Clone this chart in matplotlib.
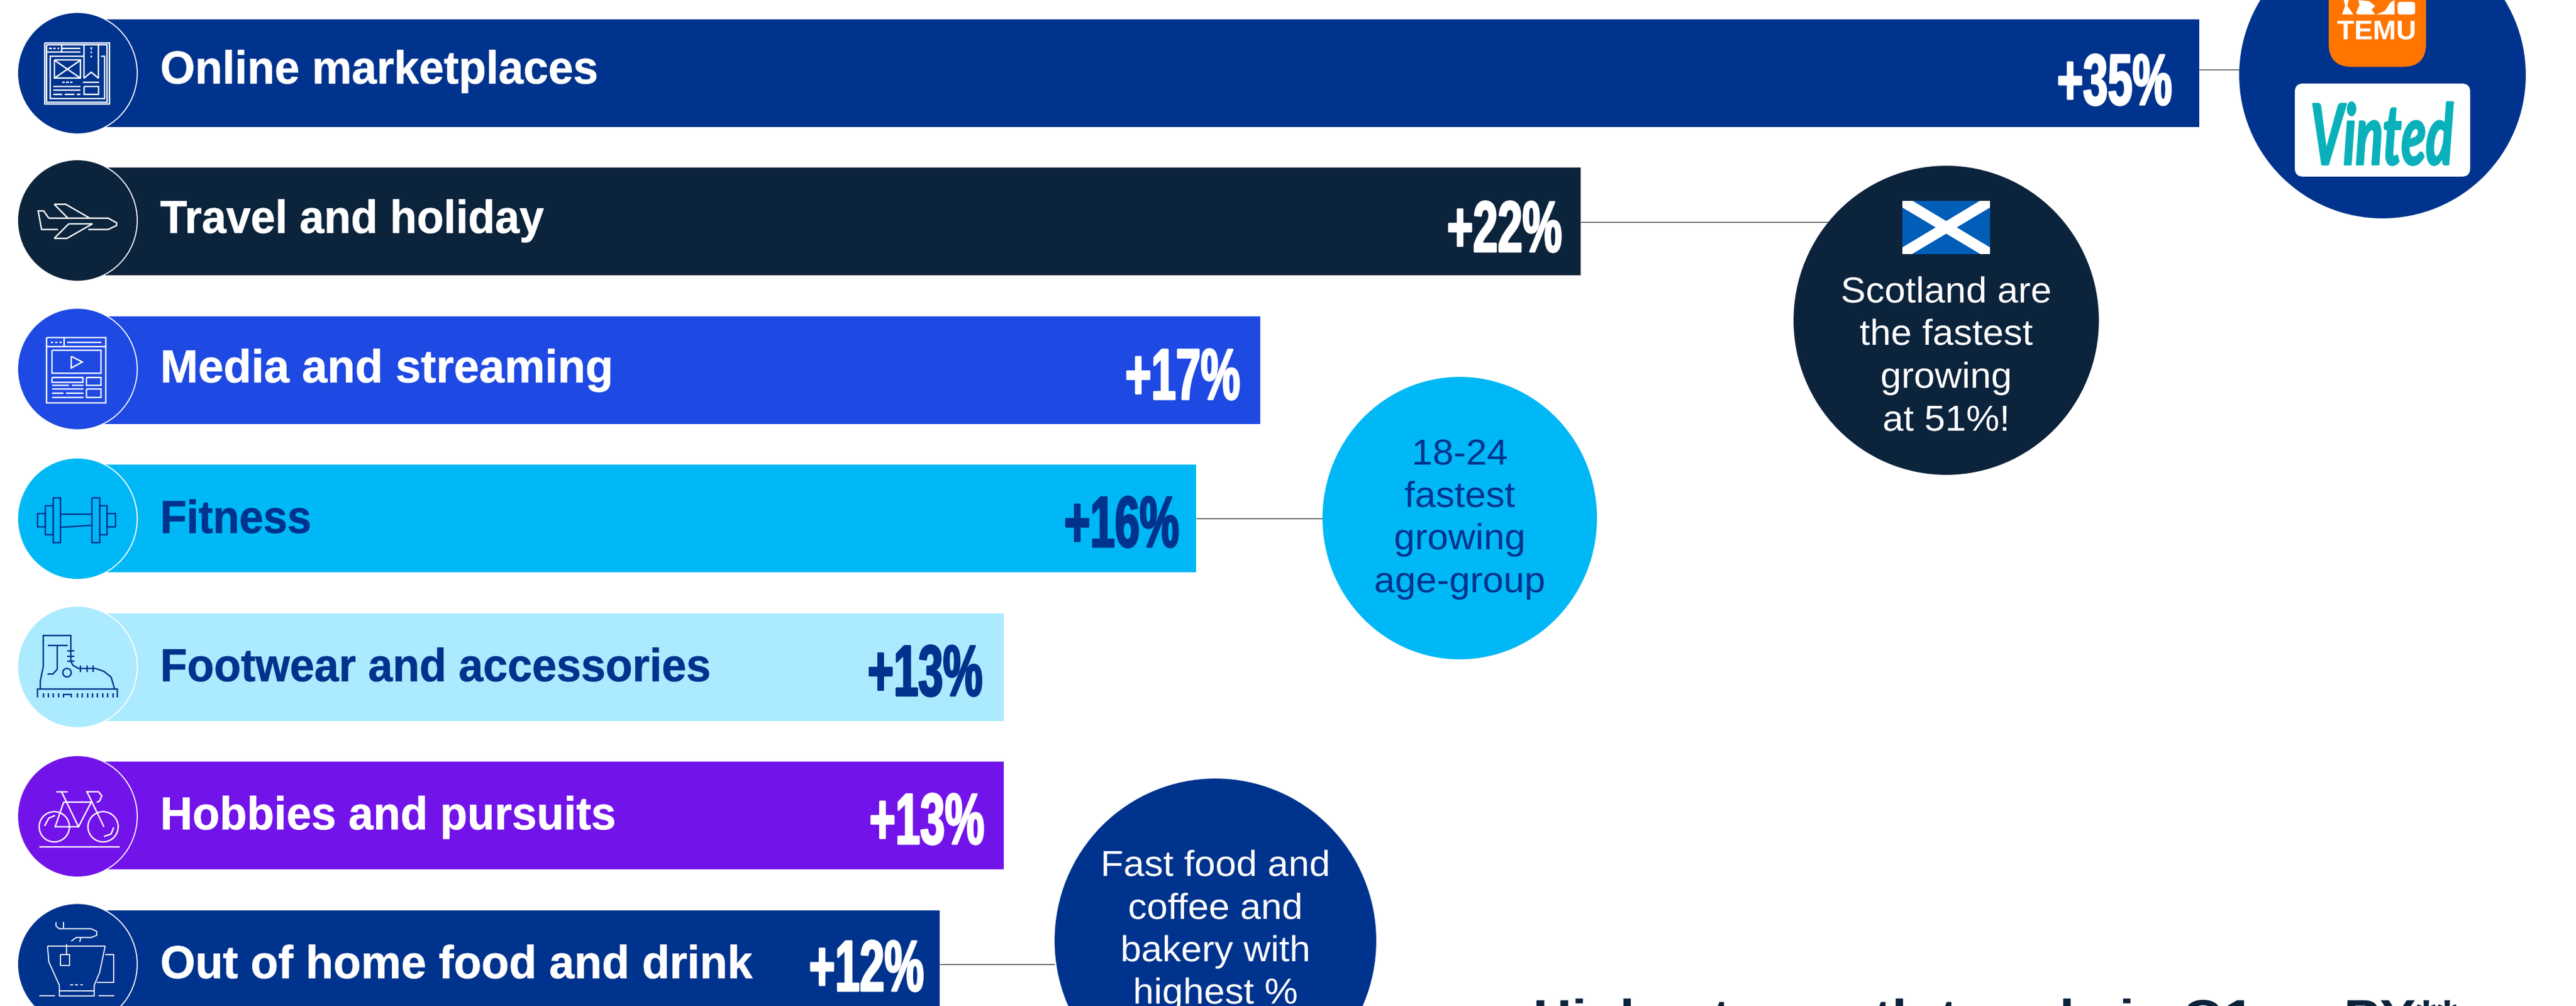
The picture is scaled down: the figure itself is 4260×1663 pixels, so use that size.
import numpy as np
import matplotlib
matplotlib.use("Agg")
import matplotlib.pyplot as plt
from matplotlib.patches import Rectangle, Ellipse, FancyBboxPatch, Polygon
from matplotlib.patheffects import AbstractPathEffect
from matplotlib.transforms import Affine2D

# ---- data -------------------------------------------------------------
categories = ["Online marketplaces", "Travel and holiday", "Media and streaming",
              "Fitness", "Footwear and accessories", "Hobbies and pursuits",
              "Out of home food and drink"]
growth = [35, 22, 17, 16, 13, 13, 12]
bar_colors = ["#00338D", "#0C233C", "#1E49E2", "#00B8F5", "#ACEAFF", "#7213EA", "#00338D"]
text_colors = ["white", "white", "white", "#00338D", "#00338D", "white", "white"]
label_baselines = [138, 385, 632, 881, 1126, 1371, 1617]
label_stretch = [0.969, 0.952, 0.986, 0.934, 0.953, 0.965, 0.978]
value_baselines = [173, 416, 660, 904, 1150, 1395, 1638]
value_margins = [45, 31, 33, 28, 35, 32, 26]
badge_centers = [121, 364.5, 610, 857.5, 1102.5, 1349.5, 1594]

W, H = 4260, 1663
NAVY, INK = "#00338D", "#0C233C"
PX_PER_POINT = 106.0      # horizontal pixels per percentage point
ZERO_PX = 282.0           # pixel column of the zero line
BREAK = 22.0              # the axis is compressed above this value
TOP_PX = 3637.0           # right end of the longest bar
COMPRESS = (TOP_PX - (ZERO_PX + BREAK * PX_PER_POINT)) / ((growth[0] - BREAK) * PX_PER_POINT)
ROW_PX, FIRST_ROW_PX, BAR_PX = 245.5, 121.0, 178.0


def forward(x):
    x = np.asarray(x, dtype=float)
    return np.where(x <= BREAK, x, BREAK + (x - BREAK) * COMPRESS)


def inverse(t):
    t = np.asarray(t, dtype=float)
    return np.where(t <= BREAK, t, BREAK + (t - BREAK) / COMPRESS)


class Squeeze(AbstractPathEffect):
    """Rescale a text horizontally about a pixel column, optionally thickening it."""

    def __init__(self, sx, anchor, stroke_px=0.0):
        super().__init__()
        self.sx, self.anchor, self.stroke = sx, anchor, stroke_px * 0.72

    def draw_path(self, renderer, gc, tpath, affine, rgbFace=None):
        squeezed = affine + Affine2D().translate(-self.anchor, 0).scale(self.sx, 1).translate(self.anchor, 0)
        gc0 = renderer.new_gc()
        gc0.copy_properties(gc)
        if self.stroke > 0:
            gc0.set_linewidth(self.stroke)
            gc0.set_foreground(rgbFace)
        renderer.draw_path(gc0, tpath, squeezed, rgbFace)
        gc0.restore()


plt.rcParams["font.family"] = ["Liberation Sans", "DejaVu Sans"]
fig = plt.figure(figsize=(W / 100, H / 100), dpi=100, facecolor="white")

# ---- bars -------------------------------------------------------------
ax = fig.add_axes([0, 0, 1, 1])
ax.set_xscale("function", functions=(forward, inverse))
ax.set_xlim(float(inverse(-ZERO_PX / PX_PER_POINT)), float(inverse((W - ZERO_PX) / PX_PER_POINT)))
ax.set_ylim((H - FIRST_ROW_PX) / ROW_PX, -FIRST_ROW_PX / ROW_PX)
ax.axis("off")
rows = np.arange(len(categories))
bar_h = BAR_PX / ROW_PX
ax.barh(rows, growth, height=bar_h, color=bar_colors, linewidth=0, zorder=2)
# short stub joining each bar to its round badge
ax.barh(rows, 2.0, left=-1.5, height=bar_h, color=bar_colors, linewidth=0, zorder=2)


def px(v):
    return ax.transData.transform((v, 0))[0]


# ---- overlay in pixel coordinates --------------------------------------
ov = fig.add_axes([0, 0, 1, 1], zorder=3)
ov.set_xlim(0, W)
ov.set_ylim(H, 0)
ov.axis("off")
ov.patch.set_alpha(0)

leaders = [(0, 3703, 115), (1, 3023, 367), (3, 2187, 857), (6, 1744, 1594)]
for row, x_end, y in leaders:
    ov.plot([px(growth[row]), x_end], [y, y], color="#333333", lw=1.0, zorder=1, solid_capstyle="butt")

for name, v, c, tc, lb, ls, vb, m, cy in zip(categories, growth, bar_colors, text_colors, label_baselines,
                                             label_stretch, value_baselines, value_margins, badge_centers):
    ov.add_patch(Ellipse((128, cy), 198, 201, facecolor=c, edgecolor="white", lw=1.3, zorder=2))
    ov.text(265, lb, name, color=tc, fontsize=55, fontweight="bold", ha="left", va="baseline", zorder=4,
            path_effects=[Squeeze(ls, 265, 0.8)])
    xr = px(v) - m
    ov.text(xr, vb, f"+{v}%", color=tc, fontsize=86, fontweight="bold", ha="right", va="baseline", zorder=4,
            path_effects=[Squeeze(0.615, xr, 3.0)])


def lines(color, lw, ox, oy, sy, shapes):
    """Stroke a list of polylines given in a local grid."""
    for shape in shapes:
        pts = np.asarray(shape, dtype=float)
        ov.plot(pts[:, 0] / 1.4255 + ox, pts[:, 1] / sy + oy, color=color, lw=lw,
                zorder=3, solid_joinstyle="miter", solid_capstyle="butt")


def box(x0, y0, x1, y1):
    return [(x0, y0), (x1, y0), (x1, y1), (x0, y1), (x0, y0)]


LW = 1.7
# marketplace page
lines("white", LW, 0, 0, 3, [
    box(105, 213, 258, 515), box(110, 222, 252, 508),
    [(146, 222), (146, 258)], [(110, 258), (190, 258)], [(146, 240), (190, 240)],
    [(116, 240), (122, 240)], [(126, 240), (131, 240)], [(135, 240), (140, 240)],
    [(198, 222), (198, 388), (215, 358), (232, 388), (232, 222)],
    [(215, 235), (215, 245)], [(215, 255), (215, 265)], [(215, 275), (215, 285)],
    [(198, 280), (118, 280), (118, 488), (246, 488), (246, 280), (238, 280)],
    box(128, 298, 190, 388), [(128, 298), (190, 388)], [(190, 298), (128, 388)],
    [(147, 408), (153, 408)], [(156, 408), (162, 408)], [(165, 408), (171, 408)], [(195, 408), (234, 408)],
    [(125, 428), (190, 428)], [(125, 448), (190, 448)],
    [(125, 468), (147, 468)], [(153, 468), (175, 468)], [(181, 468), (190, 468)],
    box(198, 428, 232, 468),
])
# aeroplane
lines("white", LW, 0, 0, 3, [
    [(115, 1082), (255, 1082), (275, 1105), (275, 1118), (255, 1138), (208, 1138)],
    [(137, 1138), (98, 1138), (90, 1046), (103, 1046), (115, 1082)],
    [(160, 1082), (128, 1013), (155, 1013), (210, 1080)],
    [(162, 1110), (218, 1110), (158, 1182), (128, 1182), (162, 1110)],
])
# video page
lines("white", LW, 0, 480, 3, [
    box(110, 234, 250, 558), [(110, 280), (250, 280)], [(151, 238), (151, 278)], [(158, 259), (240, 259)],
    [(120, 259), (125, 259)], [(130, 259), (135, 259)], [(140, 259), (145, 259)],
    box(122, 298, 238, 412), [(168, 327), (194, 355), (168, 385), (168, 327)],
    box(122, 432, 195, 456), box(204, 432, 238, 472),
    [(122, 470), (162, 470)], [(170, 470), (197, 470)], [(122, 490), (197, 490)],
    [(122, 511), (150, 511)], [(156, 511), (197, 511)], [(122, 532), (197, 532)],
    box(204, 490, 238, 532),
])
# dumbbell
lines(NAVY, LW, 0, 480, 3, [
    box(125, 1030, 143, 1252), box(217, 1030, 235, 1252),
    box(107, 1068, 125, 1212), box(235, 1068, 253, 1212),
    box(88, 1108, 107, 1172), box(253, 1108, 272, 1172),
    [(143, 1110), (217, 1110)], [(143, 1175), (217, 1165)],
])
# boot
boot = [
    [(95, 365), (95, 335), (102, 280), (102, 162), (167, 162), (167, 260), (172, 275), (185, 287),
     (225, 287), (245, 298), (262, 320), (270, 365)],
    [(112, 200), (160, 200)], [(135, 200), (135, 290), (125, 308), (112, 308)],
    [(158, 220), (176, 220)], [(158, 240), (176, 240)], [(158, 260), (176, 260)],
    [(190, 275), (190, 300)], [(205, 275), (205, 300)], [(220, 275), (220, 300)],
    [(88, 398), (88, 365), (276, 365), (276, 398)],
]
boot += [[(x, 380), (x, 398)] for x in (102, 114, 126, 138, 182, 194, 206, 218, 230, 242, 254, 266)]
boot += [[(150, 398), (150, 385), (168, 385), (168, 398)]]
lines(NAVY, LW, 0, 980, 2.296, boot)
ov.add_patch(Ellipse((158 / 1.4255, 980 + 303 / 2.296), 14, 14, fill=False, edgecolor=NAVY, lw=LW, zorder=3))
# bicycle
lines("white", LW, 0, 980, 2.296, [
    [(92, 965), (282, 965)], [(150, 795), (215, 795)], [(133, 755), (160, 755)],
    [(145, 755), (185, 888), (130, 888), (150, 795)], [(185, 888), (215, 795)], [(205, 755), (245, 888)],
    [(203, 755), (232, 755), (240, 770), (235, 790), (228, 795)],
    [(105, 885), (115, 855), (130, 845)], [(245, 925), (262, 915), (268, 890)],
])
for cx in (128, 243):
    ov.add_patch(Ellipse((cx / 1.4255, 980 + 888 / 2.296), 50, 50, fill=False, edgecolor="white", lw=LW, zorder=3))
# steaming cup
lines("white", 1.3, 0, 980, 2.296, [
    [(132, 1250), (132, 1265), (140, 1275), (215, 1275), (228, 1285), (228, 1300), (215, 1308), (180, 1308), (168, 1322)],
    [(150, 1250), (150, 1272)], [(190, 1310), (188, 1325)],
    [(112, 1340), (248, 1340)],
    [(112, 1340), (115, 1400), (140, 1490), (140, 1530), (222, 1530), (222, 1490), (235, 1440), (248, 1340)],
    [(248, 1372), (268, 1372), (268, 1478), (228, 1478)], [(140, 1510), (222, 1510)],
    [(157, 1335), (157, 1372)], box(143, 1372, 164, 1414),
    [(165, 1488), (172, 1488)], [(177, 1488), (184, 1488)], [(189, 1488), (196, 1488)],
    [(93, 1530), (130, 1530)], [(232, 1530), (270, 1530)],
])

# ---- call-out bubbles --------------------------------------------------
ov.add_patch(Ellipse((3940, 124), 474, 474, facecolor=NAVY, zorder=2, lw=0))
ov.add_patch(Ellipse((3218.5, 529.5), 505, 511, facecolor=INK, zorder=2, lw=0))
ov.add_patch(Ellipse((2414, 856.5), 454, 467, facecolor="#00B8F5", zorder=2, lw=0))
ov.add_patch(Ellipse((2010, 1555), 532, 536, facecolor=NAVY, zorder=2, lw=0))


def bubble_text(cx, baselines, rows_of_text, color):
    for b, t in zip(baselines, rows_of_text):
        ov.text(cx, b, t, color=color, fontsize=43, ha="center", va="baseline", zorder=4,
                path_effects=[Squeeze(1.04, cx)])


bubble_text(3218.5, [500, 570, 641, 712], ["Scotland are", "the fastest", "growing", "at 51%!"], "white")
bubble_text(2414, [768, 838, 908, 979], ["18-24", "fastest", "growing", "age-group"], NAVY)
bubble_text(2010, [1448, 1519, 1589, 1659], ["Fast food and", "coffee and", "bakery with", "highest %"], "white")

# Saltire
ov.add_patch(Rectangle((3146, 332), 145, 88, facecolor="#005EB8", lw=0, zorder=3))
band = [(3146, 332), (3163, 332), (3291, 409), (3291, 420), (3275, 420), (3146, 343)]
ov.add_patch(Polygon(band, facecolor="white", lw=0, zorder=4))
ov.add_patch(Polygon([(6437 - x, y) for x, y in band], facecolor="white", lw=0, zorder=4))

# Temu tile
ov.add_patch(FancyBboxPatch((3851, -80), 161, 190.5, boxstyle="round,pad=0,rounding_size=38",
                            facecolor="#FF7500", lw=0, zorder=3))
ov.text(3930.5, 65, "TEMU", color="white", fontsize=32, fontweight="bold", ha="center", va="baseline", zorder=4,
        path_effects=[Squeeze(1.04, 3930.5)])
glyphs = [
    [(3873, 24), (3878, 10), (3876, 0), (3884, 0), (3882, 10), (3892, 24)],
    [(3896, 22), (3902, 8), (3900, 0), (3918, 2), (3928, 10), (3922, 16), (3928, 24), (3900, 24)],
    [(3930, 24), (3944, 18), (3953, 4), (3960, 0), (3960, 24)],
]
for g in glyphs:
    ov.add_patch(Polygon(g, facecolor="white", lw=0, zorder=4))
ov.add_patch(FancyBboxPatch((3965, 3), 29, 21, boxstyle="round,pad=0,rounding_size=5",
                            facecolor="white", lw=0, zorder=4))

# Vinted tile
ov.add_patch(FancyBboxPatch((3795, 138), 290, 154, boxstyle="round,pad=0,rounding_size=14",
                            facecolor="white", lw=0, zorder=3))
ov.text(3939, 272, "Vinted", color="#0AB1BA", fontsize=100, family="Lato", fontweight="bold", style="italic",
        ha="center", va="baseline", zorder=4, path_effects=[Squeeze(0.6, 3939, 3.0)])

# Heading, running off the lower edge
ov.text(2535, 1708, "Highest growth trends in Q1 vs PY**", color=INK, fontsize=57, fontweight="bold",
        ha="left", va="baseline", zorder=4, path_effects=[Squeeze(1.125, 2535)])

fig.savefig("out.png", dpi=100, facecolor="white")
